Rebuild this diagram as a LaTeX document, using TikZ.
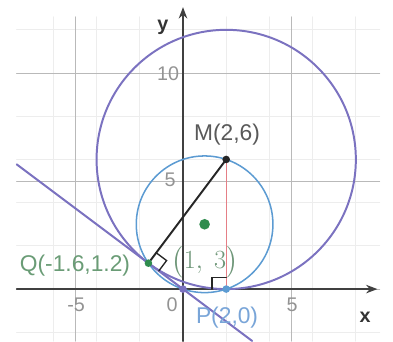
\documentclass[tikz,border=0pt]{standalone}
\usepackage{fontspec}
\setmainfont{Liberation Sans}
\usepackage{amsmath}
\usepackage{tikz}
\usetikzlibrary{calc,arrows.meta}

\definecolor{bigcirc}{HTML}{7B72C0}
\definecolor{smallcirc}{HTML}{5C9BD2}
\definecolor{ptgreen}{HTML}{2F8C4E}
\definecolor{lblgreen}{HTML}{6A9C76}
\definecolor{lblblue}{HTML}{79A5D8}
\definecolor{radred}{HTML}{E57F86}

\begin{document}
\begin{tikzpicture}[x=0.5cm, y=0.5cm, line cap=round,
  lbl/.style={font=\fontsize{15}{17}\selectfont, inner sep=1pt},
  ticklbl/.style={font=\fontsize{13}{15}\selectfont, text=gray!85, inner sep=1pt},
  axlbl/.style={font=\fontsize{13}{15}\selectfont\bfseries, text=black!80, inner sep=1pt},
  dot/.style={circle, fill, inner sep=0pt, minimum size=5pt}]
  \useasboundingbox (-8.47,-2.41) rectangle (9.72,13.38);
  % grid (minor, then major)
  \draw[gray!14, line width=0.6pt] (-7.7,-2.41) grid (9.1,12.6);
  \draw[gray!55, line width=0.6pt] (-7.7,-2.41) grid[step=5] (9.1,12.6);
  % axes
  \draw[-{Stealth}, black!75, line width=1pt] (-7.7,0) -- (9.0,0);
  \draw[-{Stealth}, black!75, line width=1pt] (0,-2.41) -- (0,13.05);
  \node[axlbl] (xlab) at (8.43,-1.3) {x};
  \node[axlbl] (ylab) at (-0.93,12.13) {y};
  \node[ticklbl] (t10) at (-0.69,9.95) {10};
  \node[ticklbl] (t5y) at (-0.6,5.05) {5};
  \node[ticklbl] (tm5) at (-4.95,-0.74) {-5};
  \node[ticklbl] (t0) at (-0.5,-0.74) {0};
  \node[ticklbl] (t5x) at (5.05,-0.74) {5};
  % points
  \coordinate (O) at (0,0);
  \coordinate (M) at (2,6);
  \coordinate (P) at (2,0);
  \coordinate (Q) at (-1.6,1.2);
  \coordinate (C) at (1,3);
  \coordinate (Lstart) at ($(O)!4.81!(Q)$);
  \coordinate (Lend) at ($(O)!-2.0!(Q)$);
  % circles
  \draw[bigcirc, line width=1.3pt] (M) circle (6);
  \draw[smallcirc, line width=1pt] (C) circle ({sqrt(10)});
  % tangent line through O and Q
  \draw[bigcirc, line width=1.3pt] (Lstart) -- (Lend);
  % radii
  \draw[black!85, line width=1.3pt] (Q) -- (M);
  \draw[radred, line width=0.8pt] (M) -- (P);
  % right-angle marks
  \draw[black!85, line width=0.9pt] ($(Q)!0.1!(M)$) -- ($(Q)+(0.84,0.12)$) -- ($(Q)!0.3!(O)$);
  \draw[black!85, line width=0.9pt] ($(P)+(-0.65,0)$) -- ++(0,0.55) -- ++(0.65,0);
  % dots
  \node[dot, fill=black!85] (Mdot) at (M) {};
  \node[dot, fill=ptgreen] (Qdot) at (Q) {};
  \node[dot, fill=bigcirc] (Odot) at (O) {};
  \node[dot, fill=smallcirc] (Pdot) at (P) {};
  \node[dot, fill=ptgreen, minimum size=7pt] (Cdot) at (C) {};
  % labels
  \node[lbl, text=black!65] (Mlab) at (2.04,7.13) {M(2,6)};
  \node[lbl, text=lblblue] (Plab) at (2.04,-1.3) {P(2,0)};
  \node[lbl, text=lblgreen] (Qlab) at (-5.0,1.11) {Q(-1.6,1.2)};
  \node[lbl, font=\fontsize{16}{18}\selectfont, text=lblgreen!80!gray] (Clab) at (1.02,1.25) {$\bigl(1,\ 3\bigr)$};
\end{tikzpicture}
\end{document}
